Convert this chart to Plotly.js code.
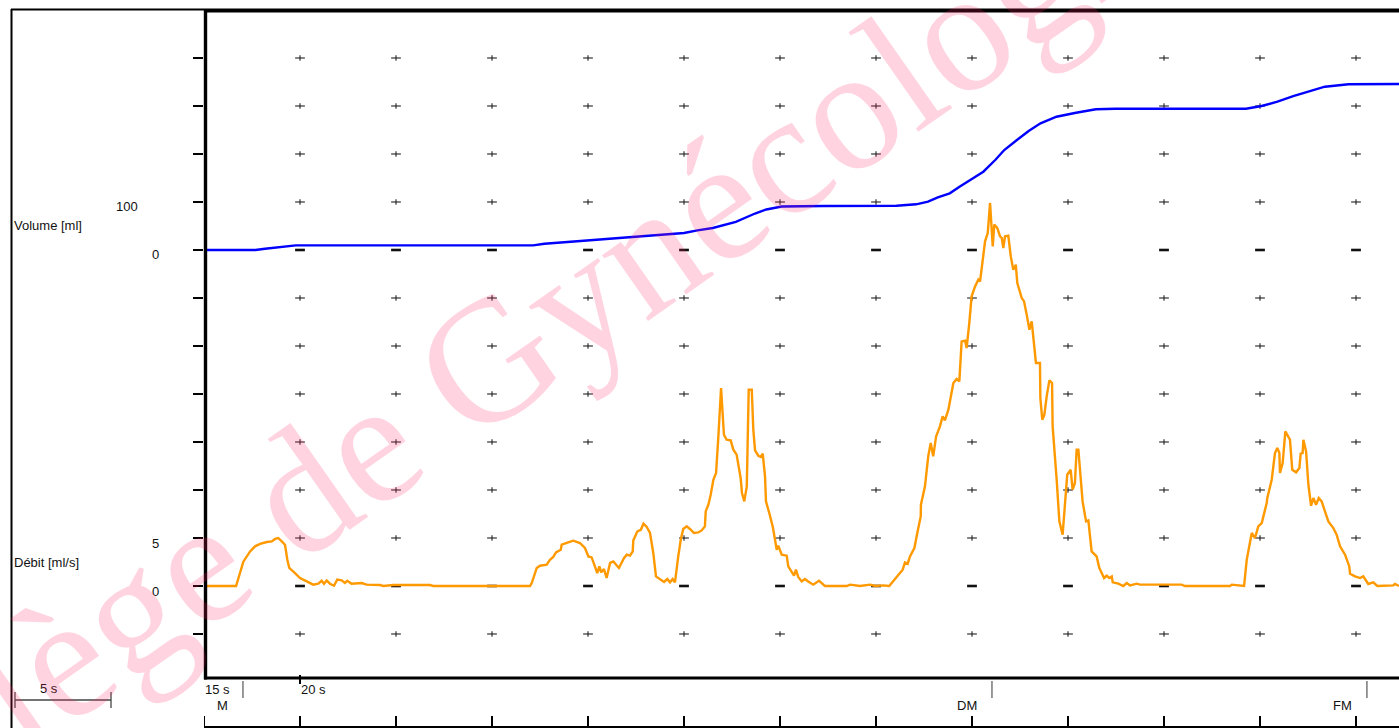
<!DOCTYPE html>
<html>
<head>
<meta charset="utf-8">
<script src="https://cdn.plot.ly/plotly-3.0.1.min.js"></script>
<style>
html,body{margin:0;padding:0;background:#fff;overflow:hidden}
#chart{width:1399px;height:728px}
</style>
</head>
<body>
<div id="chart"></div>
<script>
// ---------- data (time in s) ----------
const flowPoints = [[15.00,0],[16.67,0],[17.05,2.53],[17.40,3.60],[17.66,4.13],[17.92,4.38],[18.27,4.58],[18.53,4.65],[18.70,4.90],[18.87,5.00],[19.05,4.65],[19.22,4.30],[19.34,2.74],[19.44,1.88],[19.74,1.35],[20.00,0.83],[20.35,0.48],[20.69,0.14],[20.95,0.24],[21.13,0.55],[21.25,0.24],[21.39,0.58],[21.56,0.24],[21.77,0.03],[21.94,0.66],[22.17,0.58],[22.34,0.31],[22.46,0.55],[22.69,0.24],[22.95,0.24],[23.21,0.31],[23.47,0.14],[24.17,0.10],[24.34,0],[24.86,0.10],[26.77,0.10],[26.94,0],[31.98,0],[32.07,0.31],[32.33,1.88],[32.50,2.11],[32.85,2.22],[33.02,2.74],[33.19,3.02],[33.33,3.50],[33.58,3.78],[33.63,4.30],[33.89,4.48],[34.23,4.72],[34.58,4.48],[34.84,3.96],[35.02,3.08],[35.19,2.98],[35.36,2.04],[35.48,1.35],[35.59,2.04],[35.69,1.42],[35.83,1.77],[35.97,0.83],[36.15,2.40],[36.32,2.56],[36.61,1.88],[36.88,2.92],[37.02,3.26],[37.19,3.16],[37.33,3.60],[37.36,4.75],[37.57,5.69],[37.75,5.86],[37.89,6.49],[38.06,6.15],[38.23,5.52],[38.40,3.44],[38.54,1.00],[38.75,0.73],[38.96,0.42],[39.13,0.73],[39.27,0.38],[39.41,0.73],[39.53,0.38],[39.70,3.08],[39.83,4.82],[39.96,5.94],[40.14,6.21],[40.31,5.94],[40.52,5.52],[40.74,5.58],[40.92,5.79],[41.09,6.21],[41.13,7.77],[41.27,8.47],[41.39,9.51],[41.53,11.07],[41.67,11.77],[41.79,15.58],[41.93,20.63],[42.08,15.76],[42.22,15.24],[42.43,15.17],[42.57,14.20],[42.74,13.68],[42.95,11.25],[43.02,9.69],[43.14,8.81],[43.27,10.38],[43.37,20.45],[43.53,20.45],[43.61,16.28],[43.70,14.13],[43.87,13.57],[44.00,13.44],[44.10,13.78],[44.22,11.42],[44.27,8.81],[44.44,7.60],[44.62,6.21],[44.83,3.78],[44.91,4.20],[45.09,3.26],[45.35,3.16],[45.43,2.04],[45.61,1.52],[45.73,1.07],[45.83,1.70],[45.95,0.94],[46.13,0.48],[46.30,0.73],[46.47,0.48],[46.73,0.14],[47.03,0.55],[47.34,0],[48.47,0],[48.65,0.14],[49.17,0],[49.69,0.14],[49.95,0],[50.38,0.06],[50.69,0],[50.90,0.48],[51.08,0.90],[51.39,1.70],[51.51,2.46],[51.65,2.32],[51.77,3.08],[52.00,3.96],[52.15,5.52],[52.33,7.25],[52.34,8.47],[52.55,10.38],[52.72,13.50],[52.85,14.90],[52.98,13.50],[53.13,15.58],[53.33,16.63],[53.47,17.67],[53.59,17.25],[53.77,18.36],[54.03,21.15],[54.20,21.56],[54.34,21.31],[54.46,25.48],[54.64,25.55],[54.72,24.79],[54.86,27.40],[54.98,30.17],[55.16,31.21],[55.33,31.91],[55.42,31.73],[55.68,35.90],[55.82,36.77],[55.94,39.90],[56.08,35.38],[56.16,37.64],[56.32,37.29],[56.46,36.42],[56.55,36.25],[56.63,35.21],[56.72,36.42],[56.89,36.49],[57.02,34.33],[57.15,32.95],[57.28,33.47],[57.36,31.56],[57.59,30.00],[57.71,29.65],[57.85,28.26],[57.99,26.70],[58.11,27.56],[58.33,23.23],[58.54,23.23],[58.56,19.58],[58.66,17.32],[58.77,17.84],[58.89,19.75],[59.03,21.42],[59.17,21.15],[59.20,16.63],[59.41,11.07],[59.55,6.73],[59.72,5.34],[59.84,8.65],[59.96,11.59],[60.14,12.11],[60.24,10.03],[60.36,10.73],[60.45,14.20],[60.54,14.20],[60.76,8.81],[60.94,6.73],[61.06,6.83],[61.23,3.60],[61.49,3.08],[61.63,1.88],[61.75,1.35],[61.88,0.83],[62.02,1.07],[62.15,0.83],[62.28,1.00],[62.33,0.38],[62.62,0.24],[62.88,0],[63.06,0.31],[63.23,0.06],[63.58,0.24],[63.75,0.14],[65.92,0.14],[66.09,0],[68.44,0],[68.53,0.14],[69.17,0],[69.31,2.74],[69.57,5.52],[69.74,5.00],[69.91,6.21],[70.09,6.56],[70.35,8.65],[70.38,9.17],[70.61,11.07],[70.78,13.85],[70.90,14.38],[71.01,13.85],[71.04,11.77],[71.18,12.81],[71.32,16.10],[71.56,15.24],[71.68,12.11],[71.88,11.84],[72.05,12.29],[72.12,13.78],[72.22,13.85],[72.26,15.24],[72.40,14.02],[72.52,10.55],[72.66,8.36],[72.78,9.17],[72.92,8.47],[73.06,9.17],[73.21,8.81],[73.56,6.73],[73.82,6.04],[73.99,5.34],[74.17,4.13],[74.43,3.26],[74.65,2.04],[74.69,1.28],[74.95,1.00],[75.21,0.83],[75.38,1.00],[75.64,0.21],[75.90,0.38],[76.11,0],[76.94,0.06],[77.03,0.21],[77.24,0]];

const volumePoints = [[15.00,0],[17.68,0],[18.18,2.7],[18.98,6.25],[19.78,9.58],[32.14,9.58],[32.73,13.1],[33.93,16.7],[35.52,21.5],[36.72,25.0],[38.31,30.6],[40.00,35.4],[40.70,41.0],[41.50,45.8],[42.70,58.5],[43.70,76.0],[44.29,84.4],[45.09,90.6],[47.26,91.7],[51.07,92.3],[52.09,95.2],[52.71,100.6],[53.22,109.8],[53.84,118.1],[54.35,131.9],[55.07,149.4],[55.59,163.1],[56.21,187.5],[56.68,208.3],[57.34,229.2],[57.95,247.9],[58.57,264.0],[59.40,277.7],[60.42,286.0],[61.45,293.1],[62.48,294.4],[69.27,294.4],[70.08,300.0],[70.91,309.0],[71.73,320.8],[72.55,329.8],[73.38,340.2],[74.61,345.2],[77.24,345.8]];

const gridTimes = [20,25,30,35,40,45,50,55,60,65,70,75];
const bottomTickTimes = [15,20,25,30,35,40,45,50,55,60,65,70,75];
const volumeTicks = [-800,-700,-600,-500,-400,-300,-200,-100,0,100,200,300,400];
const zeroRows = [0,-700];
const eventTimes = [17.03,56.04,75.57];
const eventLabels = ['M','DM','FM'];
const timeLabels = ['15 s','20 s'];
const timeLabelPos = [15,20];

// ---------- geometry helpers (layout only) ----------
const L = 204, T = 10, W = 1195, H = 668;
const px = x => (x - L) / W;
const py = y => (T + H - y) / H;

// grid crosses
const gx = [], gy = [], zx = [], zy = [];
gridTimes.forEach(t => {
  volumeTicks.forEach(v => {
    if (zeroRows.includes(v)) { zx.push(t); zy.push(v); }
    else { gx.push(t); gy.push(v); }
  });
});

const traces = [
  {x: gx, y: gy, mode: 'markers', type: 'scatter', yaxis: 'y', hoverinfo: 'skip',
   marker: {symbol: 'line-ew', size: 7, line: {width: 1.1, color: '#222'}}},
  {x: gx, y: gy, mode: 'markers', type: 'scatter', yaxis: 'y', hoverinfo: 'skip',
   marker: {symbol: 'line-ns', size: 4, line: {width: 1.1, color: '#222'}}},
  {x: zx, y: zy, mode: 'markers', type: 'scatter', yaxis: 'y', hoverinfo: 'skip',
   marker: {symbol: 'line-ew', size: 7, line: {width: 2.6, color: '#111'}}},
  {x: volumePoints.map(p => p[0]), y: volumePoints.map(p => p[1]), mode: 'lines', type: 'scatter',
   yaxis: 'y', line: {color: '#0000ff', width: 2.4}, name: 'Volume'},
  {x: flowPoints.map(p => p[0]), y: flowPoints.map(p => p[1]), mode: 'lines', type: 'scatter',
   yaxis: 'y2', line: {color: '#ff9900', width: 2.4}, name: 'Débit'}
];

const blk = '#000';
const shapes = [
  // outer frame
  {type:'line', xref:'paper', yref:'paper', x0:px(11.5), x1:px(11.5), y0:py(9), y1:py(730), line:{color:blk, width:2}},
  {type:'line', xref:'paper', yref:'paper', x0:px(11), x1:px(1400), y0:py(9.5), y1:py(9.5), line:{color:blk, width:2}},
  // plot frame
  {type:'line', xref:'paper', yref:'paper', x0:px(204), x1:px(1400), y0:py(10.8), y1:py(10.8), line:{color:blk, width:3.4}},
  {type:'line', xref:'paper', yref:'paper', x0:px(205.5), x1:px(205.5), y0:py(9), y1:py(679.5), line:{color:blk, width:3.4}},
  {type:'line', xref:'paper', yref:'paper', x0:px(204), x1:px(1400), y0:py(678), y1:py(678), line:{color:blk, width:2.8}},
  {type:'line', xref:'x', yref:'paper', x0:20, x1:20, y0:py(675), y1:py(684), line:{color:blk, width:2}},
  // bottom time axis
  {type:'line', xref:'paper', yref:'paper', x0:px(204), x1:px(1400), y0:py(727), y1:py(727), line:{color:blk, width:2}},
  // scale bar 5 s
  {type:'line', xref:'paper', yref:'paper', x0:px(15), x1:px(111), y0:py(700), y1:py(700), line:{color:'#444', width:1.3}},
  {type:'line', xref:'paper', yref:'paper', x0:px(15), x1:px(15), y0:py(692), y1:py(708), line:{color:'#444', width:1.3}},
  {type:'line', xref:'paper', yref:'paper', x0:px(111), x1:px(111), y0:py(692), y1:py(708), line:{color:'#444', width:1.3}}
];
bottomTickTimes.forEach(t => shapes.push(
  {type:'line', xref:'x', yref:'paper', x0:t, x1:t, y0:py(716), y1:py(728), line:{color:blk, width:2}}));
eventTimes.forEach(t => shapes.push(
  {type:'line', xref:'x', yref:'paper', x0:t, x1:t, y0:py(681), y1:py(698), line:{color:'#333', width:1}}));

const f13 = {family: 'Liberation Sans, Arial, sans-serif', size: 13, color: '#111'};
const ann = (text, x, y, xa, extra) => Object.assign({text, xref:'paper', yref:'paper', x:px(x), y:py(y),
  xanchor: xa, yanchor: 'middle', showarrow: false, font: f13}, extra || {});
const annotations = [
  ann('Volume [ml]', 12, 225, 'left'),
  ann('100', 127, 206, 'center'),
  ann('0', 155, 254, 'center'),
  ann('Débit [ml/s]', 12, 562, 'left'),
  ann('5', 155, 543, 'center'),
  ann('0', 155, 591, 'center'),
  ann('5 s', 49, 688, 'center')
];
timeLabels.forEach((s, i) => annotations.push({text: s, xref:'x', yref:'paper', x: timeLabelPos[i], y: py(689),
  xanchor:'left', yanchor:'middle', showarrow:false, font:f13, xshift: -1}));
eventLabels.forEach((s, i) => annotations.push({text: s, xref:'x', yref:'paper', x: eventTimes[i], y: py(705.5),
  xanchor:'right', yanchor:'middle', showarrow:false, font:f13, xshift: -13}));
// watermark present in the source image
annotations.push({text: 'Collège de Gynécologie', xref:'paper', yref:'paper', x: px(475), y: py(370),
  xanchor:'center', yanchor:'middle', showarrow:false, textangle: -35,
  font: {family: 'Liberation Serif, Times New Roman, serif', size: 175, color: 'rgba(255,40,100,0.2)'}});

const layout = {
  width: 1399, height: 728,
  margin: {l: L, r: 0, t: T, b: 728 - T - H},
  paper_bgcolor: '#fff', plot_bgcolor: '#fff',
  showlegend: false, hovermode: false,
  font: {family: 'Liberation Sans, Arial, sans-serif', size: 13, color: '#111'},
  xaxis: {range: [15, 15 + W / 19.2], showgrid: false, zeroline: false, showline: false,
          ticks: '', showticklabels: false, fixedrange: true},
  yaxis: {range: [(250 - 678) / 0.48, (250 - 10) / 0.48], showgrid: false, zeroline: false, showline: false,
          tickmode: 'array', tickvals: volumeTicks, ticks: 'outside', ticklen: 10, tickwidth: 2.6,
          tickcolor: '#000', showticklabels: false, fixedrange: true},
  yaxis2: {range: [(586 - 678) / 9.6, (586 - 10) / 9.6], overlaying: 'y', side: 'left',
           showgrid: false, zeroline: false, showline: false, ticks: '', showticklabels: false, fixedrange: true},
  shapes, annotations
};

Plotly.newPlot('chart', traces, layout, {displayModeBar: false, staticPlot: true});
</script>
</body>
</html>
